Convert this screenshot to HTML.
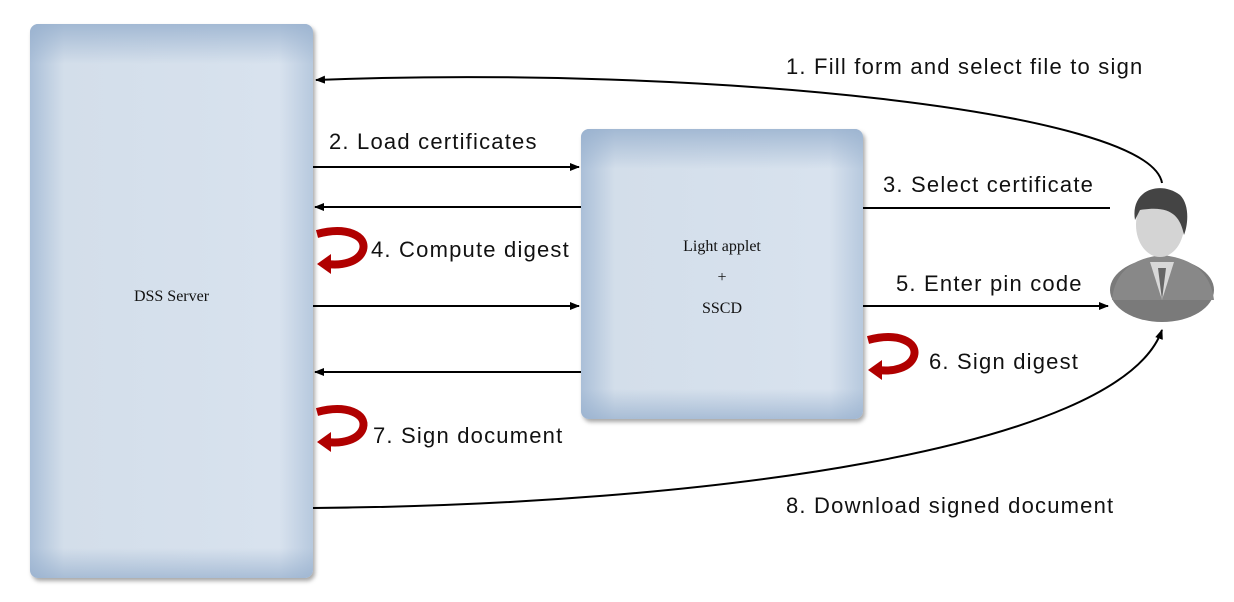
<!DOCTYPE html>
<html><head><style>
body{margin:0;width:1234px;height:602px;background:#fff;overflow:hidden;position:relative;font-family:"Liberation Sans",sans-serif}
.box{position:absolute;border-radius:8px;background:linear-gradient(90deg,#aabfd8 0%,#d3deea 12%,#d8e2ee 88%,#b7c9de 100%);box-shadow:2px 3px 4px rgba(0,0,0,.35)}
.box::before{content:"";position:absolute;left:0;right:0;top:0;height:40px;border-radius:8px 8px 0 0;background:linear-gradient(180deg,rgba(150,175,205,.8),rgba(216,226,238,0))}
.box::after{content:"";position:absolute;left:0;right:0;bottom:0;height:30px;border-radius:0 0 8px 8px;background:linear-gradient(0deg,rgba(150,175,205,.7),rgba(216,226,238,0))}
.t{position:absolute;font-size:22px;letter-spacing:1.2px;color:#111;white-space:nowrap}
.bl{position:absolute;font-family:"Liberation Serif",serif;font-size:16px;color:#111;text-align:center;z-index:2}
</style></head><body>
<div class="box" style="left:30px;top:24px;width:283px;height:554px"></div>
<div class="box" style="left:581px;top:129px;width:282px;height:290px"></div>
<div class="bl" style="left:30px;top:288px;width:283px">DSS Server</div>
<div class="bl" style="left:581px;top:231px;width:282px;line-height:31px">Light applet<br>+<br>SSCD</div>
<svg width="1234" height="602" style="position:absolute;left:0;top:0">
<defs><marker id="a" markerWidth="10" markerHeight="8" refX="9" refY="4" orient="auto" markerUnits="userSpaceOnUse"><path d="M0,0 L10,4 L0,8 z" fill="#000"/></marker>
<g id="c"><path d="M0,4 C30,-4 50,6 46,20 C42,32 25,36 10,34" fill="none" stroke="#b00000" stroke-width="8"/><path d="M14,24 L0,34 L14,44 z" fill="#b00000"/></g></defs>
<g stroke="#000" stroke-width="2" fill="none">
<path d="M1162,183 C1150,110 700,65 316,80" marker-end="url(#a)"/>
<line x1="313" y1="167" x2="579" y2="167" marker-end="url(#a)"/>
<line x1="581" y1="207" x2="315" y2="207" marker-end="url(#a)"/>
<line x1="863" y1="208" x2="1110" y2="208"/>
<line x1="313" y1="306" x2="579" y2="306" marker-end="url(#a)"/>
<line x1="863" y1="306" x2="1108" y2="306" marker-end="url(#a)"/>
<line x1="581" y1="372" x2="315" y2="372" marker-end="url(#a)"/>
<path d="M313,508 C700,505 1120,450 1162,330" marker-end="url(#a)"/>
</g>
<use href="#c" x="317" y="230"/>
<use href="#c" x="317" y="408"/>
<use href="#c" x="868" y="336"/>
<g>
<ellipse cx="1162" cy="290" rx="52" ry="32" fill="#7a7a7a"/>
<path d="M1112,300 C1115,270 1135,258 1162,255 C1190,258 1210,270 1214,300 Z" fill="#888"/>
<path d="M1150,262 L1162,300 L1174,262 Z" fill="#d8d8d8"/>
<path d="M1158,268 L1162,300 L1166,268 Z" fill="#666"/>
<ellipse cx="1160" cy="225" rx="24" ry="32" fill="#d4d4d4"/>
<path d="M1135,220 C1130,190 1160,180 1180,195 C1190,205 1188,225 1184,235 C1180,215 1170,205 1140,210 Z" fill="#444"/>
</g>
</svg>
<div class="t" style="left:786px;top:54px">1. Fill form and select file to sign</div>
<div class="t" style="left:329px;top:129px">2. Load certificates</div>
<div class="t" style="left:883px;top:172px">3. Select certificate</div>
<div class="t" style="left:371px;top:237px">4. Compute digest</div>
<div class="t" style="left:896px;top:271px">5. Enter pin code</div>
<div class="t" style="left:929px;top:349px">6. Sign digest</div>
<div class="t" style="left:373px;top:423px">7. Sign document</div>
<div class="t" style="left:786px;top:493px">8. Download signed document</div>
</body></html>
